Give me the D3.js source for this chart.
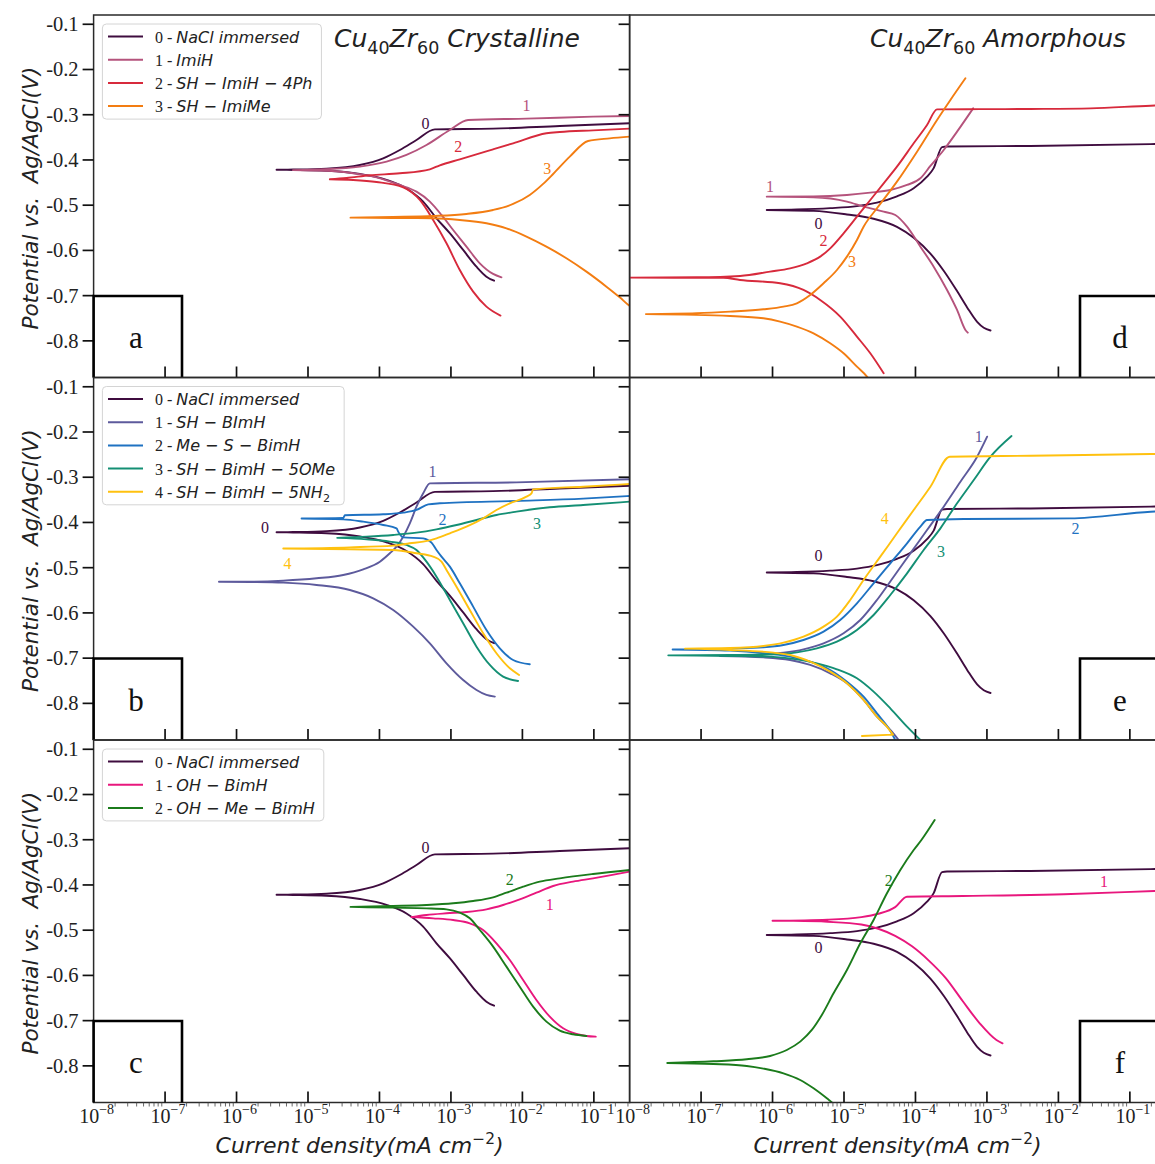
<!DOCTYPE html>
<html>
<head>
<meta charset="utf-8">
<script src="https://cdn.jsdelivr.net/npm/d3@7"></script>
<style>
  body { margin: 0; background: #fff; }
  svg { display: block; }
</style>
</head>
<body>
<svg id="fig" width="1155" height="1164"></svg>
<script>
// Each curve: [log10 current density (mA cm^-2), potential vs Ag/AgCl (V)],
// running from the cathodic end through Ecorr to the anodic end.

// ---- Cu40Zr60 crystalline ----
const crystNaCl = [[-2.396,-0.667],[-2.503,-0.658],[-2.643,-0.636],[-2.829,-0.599],[-3.016,-0.562],[-3.202,-0.529],[-3.389,-0.492],[-3.622,-0.463],[-3.901,-0.444],[-4.274,-0.431],[-4.741,-0.424],[-5.207,-0.4222],[-5.44,-0.4217],[-5.207,-0.4212],[-4.741,-0.4192],[-4.274,-0.4111],[-3.948,-0.3964],[-3.715,-0.378],[-3.482,-0.3558],[-3.225,-0.3323],[-2.41,-0.3308],[-1.477,-0.3249],[-0.5,-0.319]];
const crystImiH = [[-2.293,-0.6595],[-2.41,-0.652],[-2.596,-0.6285],[-2.783,-0.5917],[-2.969,-0.5548],[-3.132,-0.5216],[-3.295,-0.492],[-3.482,-0.470],[-3.715,-0.4553],[-4.041,-0.4384],[-4.368,-0.4295],[-4.741,-0.424],[-5.21,-0.4225],[-4.741,-0.4207],[-4.274,-0.4148],[-3.901,-0.4037],[-3.622,-0.389],[-3.342,-0.367],[-3.016,-0.3337],[-2.759,-0.3116],[-1.943,-0.3087],[-1.011,-0.3043],[-0.5,-0.3028]];
const crystSHImiH4Ph = [[-2.307,-0.744],[-2.503,-0.7243],[-2.689,-0.6911],[-2.876,-0.6432],[-3.062,-0.5843],[-3.249,-0.5327],[-3.435,-0.4885],[-3.668,-0.4605],[-4.041,-0.4487],[-4.368,-0.4443],[-4.694,-0.4428],[-4.461,-0.4398],[-4.135,-0.4339],[-3.715,-0.4295],[-3.295,-0.4207],[-3.155,-0.4118],[-2.876,-0.3986],[-2.41,-0.3765],[-2.13,-0.3632],[-1.664,-0.341],[-1.477,-0.3382],[-1.011,-0.3345],[-0.5,-0.3308]];
const crystSHImiMe = [[-0.45,-0.727],[-0.498,-0.7228],[-0.638,-0.7037],[-0.824,-0.6801],[-1.104,-0.6469],[-1.384,-0.6174],[-1.664,-0.5917],[-1.943,-0.5695],[-2.223,-0.5511],[-2.503,-0.54],[-2.876,-0.5327],[-3.249,-0.529],[-3.808,-0.5283],[-4.405,-0.5275],[-3.808,-0.526],[-3.249,-0.5239],[-2.783,-0.5194],[-2.41,-0.5106],[-2.13,-0.4973],[-1.897,-0.4774],[-1.71,-0.453],[-1.57,-0.431],[-1.337,-0.3927],[-1.081,-0.358],[-0.778,-0.3522],[-0.5,-0.3485]];
const crystSHBImH = [[-2.386,-0.7851],[-2.503,-0.7814],[-2.642,-0.7704],[-2.829,-0.7483],[-3.062,-0.7114],[-3.295,-0.6672],[-3.528,-0.6304],[-3.808,-0.5935],[-4.088,-0.5677],[-4.414,-0.5493],[-4.88,-0.5382],[-5.346,-0.5331],[-5.813,-0.5316],[-6.246,-0.531],[-5.813,-0.5309],[-5.346,-0.5287],[-4.88,-0.5235],[-4.507,-0.5161],[-4.227,-0.5036],[-3.994,-0.4867],[-3.855,-0.4682],[-3.761,-0.4535],[-3.668,-0.4314],[-3.575,-0.4019],[-3.482,-0.3651],[-3.388,-0.3356],[-3.295,-0.3135],[-2.083,-0.3113],[-0.5,-0.3046]];
const crystMeSBimH = [[-1.897,-0.7136],[-2.13,-0.7041],[-2.316,-0.6783],[-2.503,-0.6377],[-2.689,-0.5861],[-2.876,-0.5346],[-3.015,-0.4977],[-3.132,-0.4756],[-3.202,-0.4609],[-3.272,-0.4447],[-3.388,-0.4351],[-3.668,-0.4329],[-3.738,-0.4203],[-3.761,-0.413],[-3.948,-0.4056],[-4.227,-0.3982],[-4.507,-0.3931],[-5.09,-0.3913],[-4.507,-0.3901],[-4.484,-0.3842],[-3.948,-0.382],[-3.668,-0.3784],[-3.482,-0.3724],[-3.318,-0.3599],[-3.155,-0.3577],[-2.083,-0.3525],[-1.151,-0.3474],[-0.5,-0.3415]];
const crystSHBimH5OMe = [[-2.06,-0.7505],[-2.27,-0.7409],[-2.456,-0.7151],[-2.642,-0.6746],[-2.829,-0.623],[-3.015,-0.5714],[-3.202,-0.5198],[-3.342,-0.4867],[-3.482,-0.4609],[-3.621,-0.4498],[-3.855,-0.4425],[-4.181,-0.4373],[-4.591,-0.434],[-4.181,-0.4314],[-3.808,-0.4277],[-3.482,-0.4226],[-3.202,-0.4152],[-2.922,-0.4056],[-2.642,-0.3945],[-2.363,-0.3835],[-2.083,-0.3761],[-1.617,-0.3665],[-1.151,-0.3614],[-0.5,-0.354]];
const crystSHBimH5NH2 = [[-2.046,-0.7372],[-2.176,-0.7225],[-2.363,-0.6893],[-2.549,-0.6451],[-2.736,-0.5935],[-2.922,-0.542],[-3.062,-0.5051],[-3.132,-0.4867],[-3.249,-0.4756],[-3.482,-0.4682],[-3.808,-0.4609],[-4.414,-0.4594],[-5.346,-0.4576],[-4.414,-0.455],[-3.808,-0.4513],[-3.575,-0.4461],[-3.388,-0.4425],[-3.202,-0.4351],[-3.015,-0.424],[-2.782,-0.4093],[-2.549,-0.3909],[-2.363,-0.3724],[-2.176,-0.3577],[-1.943,-0.343],[-1.873,-0.3356],[-1.85,-0.3268],[-1.151,-0.3209],[-0.5,-0.315]];
const crystOHBimH = [[-0.974,-0.7354],[-1.104,-0.7339],[-1.244,-0.7295],[-1.43,-0.717],[-1.617,-0.6912],[-1.804,-0.6543],[-1.99,-0.6101],[-2.176,-0.5659],[-2.363,-0.529],[-2.55,-0.4996],[-2.736,-0.4848],[-2.969,-0.4775],[-3.249,-0.4738],[-3.552,-0.471],[-3.342,-0.4664],[-3.062,-0.4627],[-2.783,-0.4598],[-2.503,-0.4539],[-2.27,-0.4443],[-2.037,-0.4318],[-1.804,-0.4171],[-1.57,-0.4023],[-1.291,-0.3927],[-1.011,-0.3854],[-0.5,-0.3706]];
const crystOHMeBimH = [[-1.104,-0.7339],[-1.291,-0.7302],[-1.477,-0.7221],[-1.664,-0.7022],[-1.85,-0.6691],[-2.037,-0.6249],[-2.223,-0.5806],[-2.41,-0.5364],[-2.596,-0.4996],[-2.736,-0.4738],[-2.876,-0.4613],[-3.062,-0.4539],[-3.342,-0.4517],[-3.808,-0.4502],[-4.405,-0.4485],[-3.808,-0.4465],[-3.342,-0.4443],[-2.969,-0.4406],[-2.689,-0.4355],[-2.41,-0.4274],[-2.223,-0.4171],[-1.99,-0.4038],[-1.757,-0.3927],[-1.477,-0.3854],[-1.011,-0.3758],[-0.5,-0.367]];

// ---- Cu40Zr60 amorphous ----
const amorNaCl = [[-2.95,-0.777],[-3.044,-0.771],[-3.137,-0.758],[-3.277,-0.726],[-3.418,-0.690],[-3.605,-0.645],[-3.791,-0.607],[-4.025,-0.572],[-4.259,-0.548],[-4.586,-0.530],[-4.959,-0.5205],[-5.426,-0.5125],[-6.081,-0.5105],[-5.66,-0.5095],[-5.193,-0.5065],[-4.819,-0.502],[-4.539,-0.4945],[-4.259,-0.4805],[-4.025,-0.4625],[-3.838,-0.437],[-3.745,-0.418],[-3.628,-0.3715],[-3.558,-0.3703],[-2.39,-0.369],[-0.708,-0.3649],[-0.5,-0.3643]];
const amorImiH = [[-3.268,-0.7818],[-3.301,-0.7759],[-3.418,-0.7317],[-3.558,-0.6875],[-3.745,-0.6359],[-3.931,-0.5917],[-4.118,-0.5475],[-4.282,-0.5217],[-4.445,-0.5143],[-4.726,-0.5032],[-4.959,-0.4922],[-5.426,-0.4826],[-6.081,-0.4811],[-5.426,-0.4806],[-4.959,-0.4774],[-4.632,-0.4723],[-4.352,-0.4664],[-4.118,-0.4553],[-3.931,-0.4406],[-3.791,-0.4133],[-3.605,-0.378],[-3.418,-0.3374],[-3.193,-0.2859]];
const amorSHImiH4Ph = [[-4.445,-0.8717],[-4.632,-0.8275],[-4.819,-0.7906],[-5.053,-0.7464],[-5.333,-0.7096],[-5.567,-0.6875],[-5.894,-0.6727],[-6.454,-0.6654],[-6.688,-0.6605],[-8.05,-0.6602],[-7.062,-0.6595],[-6.454,-0.6565],[-6.034,-0.6469],[-5.754,-0.6396],[-5.52,-0.6285],[-5.333,-0.6138],[-5.193,-0.5954],[-5.006,-0.5622],[-4.819,-0.5254],[-4.632,-0.4885],[-4.445,-0.4517],[-4.259,-0.4148],[-4.025,-0.3632],[-3.838,-0.3227],[-3.698,-0.2881],[-2.39,-0.2873],[-1.549,-0.2859],[-0.708,-0.28],[-0.5,-0.279]];
const amorSHImiMe = [[-4.632,-0.8901],[-4.679,-0.8791],[-4.819,-0.857],[-5.006,-0.8275],[-5.193,-0.8054],[-5.426,-0.7833],[-5.66,-0.7685],[-5.894,-0.7575],[-6.127,-0.7501],[-6.594,-0.745],[-7.772,-0.7408],[-7.062,-0.739],[-6.594,-0.7354],[-6.127,-0.7302],[-5.847,-0.7243],[-5.66,-0.7169],[-5.473,-0.6985],[-5.286,-0.6727],[-5.099,-0.6433],[-4.959,-0.6138],[-4.819,-0.577],[-4.726,-0.5475],[-4.539,-0.5069],[-4.259,-0.448],[-3.978,-0.3817],[-3.698,-0.3116],[-3.511,-0.2674],[-3.301,-0.2195]];
const amorSHBImH = [[-4.235,-0.881],[-4.352,-0.8588],[-4.539,-0.8294],[-4.726,-0.7925],[-4.959,-0.7557],[-5.193,-0.7336],[-5.473,-0.7151],[-5.754,-0.7041],[-6.127,-0.6982],[-6.735,-0.6952],[-6.127,-0.6916],[-5.847,-0.6879],[-5.567,-0.6805],[-5.286,-0.6673],[-5.006,-0.6451],[-4.772,-0.6157],[-4.539,-0.5714],[-4.305,-0.5199],[-4.072,-0.4683],[-3.838,-0.4167],[-3.605,-0.3651],[-3.371,-0.3098],[-3.137,-0.2546],[-2.997,-0.2104]];
const amorMeSBimH = [[-4.282,-0.881],[-4.375,-0.8552],[-4.539,-0.822],[-4.726,-0.7852],[-4.959,-0.752],[-5.193,-0.7262],[-5.473,-0.7078],[-5.754,-0.6967],[-6.034,-0.6908],[-6.594,-0.6835],[-7.398,-0.681],[-6.594,-0.679],[-6.127,-0.6761],[-5.847,-0.6709],[-5.567,-0.6599],[-5.286,-0.6415],[-5.053,-0.6157],[-4.819,-0.5788],[-4.586,-0.5346],[-4.352,-0.4904],[-4.118,-0.4462],[-3.931,-0.4093],[-3.838,-0.3946],[-3.324,-0.3924],[-1.829,-0.391],[-0.708,-0.3762],[-0.5,-0.3745]];
const amorSHBimH5OMe = [[-3.931,-0.881],[-4.118,-0.8515],[-4.352,-0.811],[-4.586,-0.7741],[-4.819,-0.7446],[-5.099,-0.7247],[-5.38,-0.7115],[-5.66,-0.7026],[-6.034,-0.6967],[-6.594,-0.6952],[-7.459,-0.6938],[-6.594,-0.693],[-6.034,-0.6916],[-5.66,-0.6872],[-5.38,-0.6783],[-5.099,-0.6636],[-4.819,-0.6378],[-4.586,-0.6046],[-4.352,-0.5604],[-4.118,-0.5125],[-3.885,-0.4609],[-3.651,-0.413],[-3.418,-0.3577],[-3.184,-0.3062],[-2.95,-0.2546],[-2.656,-0.2089]];
const amorSHBimH5NH2 = [[-4.749,-0.8721],[-4.315,-0.8692],[-4.399,-0.8515],[-4.539,-0.8294],[-4.726,-0.7925],[-4.959,-0.7557],[-5.193,-0.7299],[-5.473,-0.7078],[-5.754,-0.693],[-5.987,-0.6879],[-6.594,-0.682],[-7.225,-0.679],[-6.594,-0.6776],[-6.127,-0.6731],[-5.847,-0.6658],[-5.567,-0.6525],[-5.286,-0.6304],[-5.099,-0.6083],[-4.913,-0.5714],[-4.726,-0.5272],[-4.492,-0.4756],[-4.259,-0.424],[-4.025,-0.3725],[-3.791,-0.3209],[-3.52,-0.2546],[-2.39,-0.2524],[-0.708,-0.2487],[-0.5,-0.2483]];
const amorOHBimH = [[-2.782,-0.7501],[-2.867,-0.7428],[-3.104,-0.7053],[-3.34,-0.6566],[-3.576,-0.606],[-3.813,-0.5672],[-4.048,-0.5357],[-4.284,-0.5126],[-4.52,-0.4968],[-4.757,-0.4875],[-5.229,-0.4815],[-5.702,-0.4795],[-6.0,-0.4792],[-5.229,-0.4768],[-4.757,-0.4712],[-4.52,-0.4637],[-4.284,-0.449],[-4.119,-0.426],[-3.34,-0.4244],[-1.922,-0.4207],[-0.656,-0.4134],[-0.5,-0.4125]];
const amorOHMeBimH = [[-5.053,-0.8975],[-5.099,-0.8901],[-5.24,-0.8717],[-5.426,-0.8496],[-5.613,-0.8312],[-5.847,-0.8165],[-6.127,-0.8061],[-6.361,-0.8002],[-6.828,-0.7958],[-7.473,-0.7935],[-6.828,-0.7899],[-6.361,-0.7855],[-6.034,-0.7781],[-5.8,-0.7649],[-5.613,-0.7464],[-5.45,-0.7206],[-5.31,-0.6875],[-5.146,-0.6396],[-4.959,-0.588],[-4.772,-0.529],[-4.586,-0.4775],[-4.399,-0.4185],[-4.212,-0.3669],[-4.025,-0.3227],[-3.917,-0.3006],[-3.731,-0.2564]];

// ---- legend names (markup: _{...} subscript) ----
const namesA = ["NaCl immersed", "ImiH", "SH − ImiH − 4Ph", "SH − ImiMe"];
const namesB = ["NaCl immersed", "SH − BImH", "Me − S − BimH", "SH − BimH − 5OMe", "SH − BimH − 5NH_{2}"];
const namesC = ["NaCl immersed", "OH − BimH", "OH − Me − BimH"];

// ---- series colours ----
const colorsA = ["#3f0c3f", "#b5537c", "#d72a3c", "#f37d12"];
const colorsB = ["#3f0c3f", "#5d5a9c", "#1f72c2", "#148f74", "#ffc10f"];
const colorsC = ["#3f0c3f", "#e8177d", "#1b7b1b"];

// ---- curve number labels: [series index, log10 i, E] ----
const labelsA = [[0,-3.356,-0.319],[1,-1.943,-0.2785],[2,-2.899,-0.3706],[3,-1.654,-0.4185]];
const labelsB = [[0,-5.603,-0.4108],[1,-3.258,-0.2877],[2,-3.118,-0.3931],[3,-1.794,-0.4034],[4,-5.286,-0.4904]];
const labelsC = [[0,-3.356,-0.3168],[1,-1.617,-0.4443],[2,-2.176,-0.389]];
const labelsD = [[1,-6.034,-0.4576],[0,-5.356,-0.5401],[2,-5.286,-0.577],[3,-4.889,-0.6248]];
const labelsE = [[0,-5.356,-0.4734],[1,-3.114,-0.2104],[2,-1.759,-0.413],[3,-3.642,-0.4646],[4,-4.431,-0.391]];
const labelsF = [[0,-5.356,-0.5379],[1,-1.362,-0.3927],[2,-4.375,-0.3905]];

// ---- axis ticks ----
const yTicks = [-0.8, -0.7, -0.6, -0.5, -0.4, -0.3, -0.2, -0.1];
const yTickLabels = ["-0.8", "-0.7", "-0.6", "-0.5", "-0.4", "-0.3", "-0.2", "-0.1"];
const xDecades = [-8, -7, -6, -5, -4, -3, -2, -1];
const xTickLabels = ["−8", "−7", "−6", "−5", "−4", "−3", "−2", "−1"];

const titles = ["Cu_{40}Zr_{60} Crystalline", "Cu_{40}Zr_{60} Amorphous"];
const yLabel = "Potential vs.\u00a0 Ag/AgCl(V)";
const xLabel = "Current density(mA cm^{−2})";

// ---------------- layout ----------------
const PW = 536, PH = 362.5;
const colX = [93.6, 629.6];
const rowY = [15, 377.5, 740];
const SANS = "'DejaVu Sans', sans-serif";
const SERIF = "'Liberation Serif', 'Times New Roman', serif";

const panels = [
  { key: "a", col: 0, row: 0, series: [crystNaCl, crystImiH, crystSHImiH4Ph, crystSHImiMe], colors: colorsA, names: namesA, labels: labelsA },
  { key: "b", col: 0, row: 1, series: [crystNaCl, crystSHBImH, crystMeSBimH, crystSHBimH5OMe, crystSHBimH5NH2], colors: colorsB, names: namesB, labels: labelsB },
  { key: "c", col: 0, row: 2, series: [crystNaCl, crystOHBimH, crystOHMeBimH], colors: colorsC, names: namesC, labels: labelsC },
  { key: "d", col: 1, row: 0, series: [amorNaCl, amorImiH, amorSHImiH4Ph, amorSHImiMe], colors: colorsA, labels: labelsD },
  { key: "e", col: 1, row: 1, series: [amorNaCl, amorSHBImH, amorMeSBimH, amorSHBimH5OMe, amorSHBimH5NH2], colors: colorsB, labels: labelsE },
  { key: "f", col: 1, row: 2, series: [amorNaCl, amorOHBimH, amorOHMeBimH], colors: colorsC, labels: labelsF }
];

const svg = d3.select("#fig");
svg.append("rect").attr("width", 1155).attr("height", 1164).attr("fill", "#fff");

// Text with _{sub} / ^{sup} markup written as tspans (indices upright)
function rich(textSel, str, size) {
  const parts = str.split(/(_\{[^}]*\}|\^\{[^}]*\})/).filter(s => s.length);
  let shift = 0;
  parts.forEach(p => {
    let t = p, off = 0, fs = size, upright = false;
    if (p.startsWith("_{")) { t = p.slice(2, -1); off = size * 0.28; fs = size * 0.7; upright = true; }
    else if (p.startsWith("^{")) { t = p.slice(2, -1); off = -size * 0.42; fs = size * 0.7; upright = true; }
    const ts = textSel.append("tspan").attr("dy", off - shift).attr("font-size", fs).text(t);
    if (upright) ts.attr("font-style", "normal");
    shift = off;
  });
  return textSel;
}

// Split a polarisation curve into runs that are monotone in current,
// so each run can be smoothed with a monotone spline (no overshoot at knees).
function monotoneRuns(pts) {
  const runs = [];
  let run = [pts[0]], dir = 0;
  for (let i = 1; i < pts.length; i++) {
    const d = Math.sign(pts[i][0] - pts[i - 1][0]);
    if (dir === 0 || d === dir || d === 0) {
      if (d !== 0) dir = d;
      run.push(pts[i]);
    } else {
      runs.push({ pts: run, dir });
      run = [pts[i - 1], pts[i]];
      dir = d;
    }
  }
  runs.push({ pts: run, dir });
  return runs.map(r => (r.dir < 0 ? r.pts.slice().reverse() : r.pts));
}

panels.forEach(p => {
  const x0 = colX[p.col], y0 = rowY[p.row];
  const x = d3.scaleLog().domain([1e-8, Math.pow(10, -0.5)]).range([x0, x0 + PW]);
  const y = d3.scaleLinear().domain([-0.881, -0.0795]).range([y0 + PH, y0]);
  const g = svg.append("g");

  const clipId = "clip-" + p.key;
  svg.append("clipPath").attr("id", clipId)
    .append("rect").attr("x", x0).attr("y", y0).attr("width", PW).attr("height", PH);

  // curves
  const line = d3.line()
    .x(d => x(Math.pow(10, d[0]))).y(d => y(d[1]))
    .curve(d3.curveMonotoneX);
  const curves = g.append("g").attr("clip-path", `url(#${clipId})`);
  p.series.forEach((s, i) => {
    const d = monotoneRuns(s).map(r => line(r)).join("");
    curves.append("path").attr("d", d).attr("fill", "none")
      .attr("stroke", p.colors[i]).attr("stroke-width", 1.9)
      .attr("stroke-linejoin", "round").attr("stroke-linecap", "round");
  });

  // curve number labels
  p.labels.forEach(([i, lx, ly]) => {
    g.append("text").attr("x", x(Math.pow(10, lx))).attr("y", y(ly))
      .attr("text-anchor", "middle").attr("dominant-baseline", "central")
      .attr("font-family", SERIF).attr("font-size", 16)
      .attr("fill", p.colors[i]).text(String(i));
  });

  // frame
  g.append("rect").attr("x", x0).attr("y", y0).attr("width", PW).attr("height", PH)
    .attr("fill", "none").attr("stroke", "#2a2a2a").attr("stroke-width", 1.5);

  // bottom major ticks (pointing inward)
  const bottom = y0 + PH;
  xDecades.slice(1).forEach(n => {
    const xx = x(Math.pow(10, n));
    g.append("line").attr("x1", xx).attr("x2", xx).attr("y1", bottom - 11).attr("y2", bottom)
      .attr("stroke", "#111").attr("stroke-width", 1.7);
  });

  if (p.row === 2) {
    // minor ticks and decade labels on the lowest axis
    xDecades.forEach(n => {
      for (let k = 2; k <= 9; k++) {
        const v = k * Math.pow(10, n);
        if (v > Math.pow(10, -0.5)) continue;
        const xx = x(v);
        g.append("line").attr("x1", xx).attr("x2", xx).attr("y1", bottom).attr("y2", bottom + 4)
          .attr("stroke", "#444").attr("stroke-width", 0.8);
      }
    });
    xDecades.forEach((n, i) => {
      const t = g.append("text").attr("x", x(Math.pow(10, n)) + 3).attr("y", bottom + 20)
        .attr("text-anchor", "middle").attr("font-family", SERIF).attr("fill", "#222");
      t.append("tspan").attr("font-size", 20).text("10");
      t.append("tspan").attr("font-size", 14).attr("dy", -9).text(xTickLabels[i]);
    });
    const xl = g.append("text").attr("x", x0 + (p.col === 0 ? 266 : 268)).attr("y", 1153)
      .attr("text-anchor", "middle").attr("font-family", SANS).attr("font-style", "italic")
      .attr("fill", "#222");
    rich(xl, xLabel, 22);
  }

  if (p.col === 0) {
    // y axis: outward ticks on the left, inward ticks on the right
    yTicks.forEach((v, i) => {
      const yy = y(v);
      g.append("line").attr("x1", x0 - 11).attr("x2", x0).attr("y1", yy).attr("y2", yy)
        .attr("stroke", "#111").attr("stroke-width", 1.7);
      g.append("line").attr("x1", x0 + PW - 11).attr("x2", x0 + PW).attr("y1", yy).attr("y2", yy)
        .attr("stroke", "#111").attr("stroke-width", 1.7);
      g.append("text").attr("x", x0 - 15).attr("y", yy).attr("dy", "0.34em")
        .attr("text-anchor", "end").attr("font-family", SERIF).attr("font-size", 20.5)
        .attr("fill", "#222").text(yTickLabels[i]);
    });
    g.append("text")
      .attr("transform", `translate(30,${y0 + PH / 2 + 2}) rotate(-90)`)
      .attr("text-anchor", "middle").attr("dominant-baseline", "central")
      .attr("font-family", SANS).attr("font-style", "italic").attr("font-size", 21.5)
      .attr("fill", "#222").text(yLabel);

    // legend
    const lg = g.append("g");
    const top = y0 + 9;
    const box = lg.append("rect").attr("x", 102.4).attr("y", top).attr("rx", 4)
      .attr("fill", "#fff").attr("fill-opacity", 0.85).attr("stroke", "#d4d4d4").attr("stroke-width", 1);
    let maxW = 0;
    p.names.forEach((nm, i) => {
      const cy = top + 12.5 + i * 23.2;
      lg.append("line").attr("x1", 108).attr("x2", 143).attr("y1", cy).attr("y2", cy)
        .attr("stroke", p.colors[i]).attr("stroke-width", 2);
      const t = lg.append("text").attr("x", 155).attr("y", cy + 6)
        .attr("font-family", SANS).attr("font-style", "italic").attr("fill", "#222");
      t.append("tspan").attr("font-family", SERIF).attr("font-style", "normal")
        .attr("font-size", 16).text(i + " - ");
      rich(t, nm, 16);
      maxW = Math.max(maxW, t.node().getComputedTextLength());
    });
    box.attr("width", 155 + maxW + 9 - 102.4).attr("height", 12.5 + (p.names.length - 1) * 23.2 + 13);
  }

  // panel letter box
  const bx0 = p.col === 0 ? x0 : 1080;
  const bx1 = p.col === 0 ? 182 : x0 + PW;
  g.append("path")
    .attr("d", `M${bx0},${y0 + PH} V${y0 + 281} H${bx1} V${y0 + PH}`)
    .attr("fill", "none").attr("stroke", "#000").attr("stroke-width", 2.6);
  g.append("text").attr("x", p.col === 0 ? 136 : 1120).attr("y", y0 + 333)
    .attr("text-anchor", "middle").attr("font-family", SERIF).attr("font-size", 31)
    .attr("fill", "#111").text(p.key);

  if (p.row === 0) {
    const tt = g.append("text").attr("x", p.col === 0 ? 334 : 870).attr("y", 47)
      .attr("font-family", SANS).attr("font-style", "italic").attr("fill", "#222");
    rich(tt, titles[p.col], 25);
  }
});
</script>
</body>
</html>
